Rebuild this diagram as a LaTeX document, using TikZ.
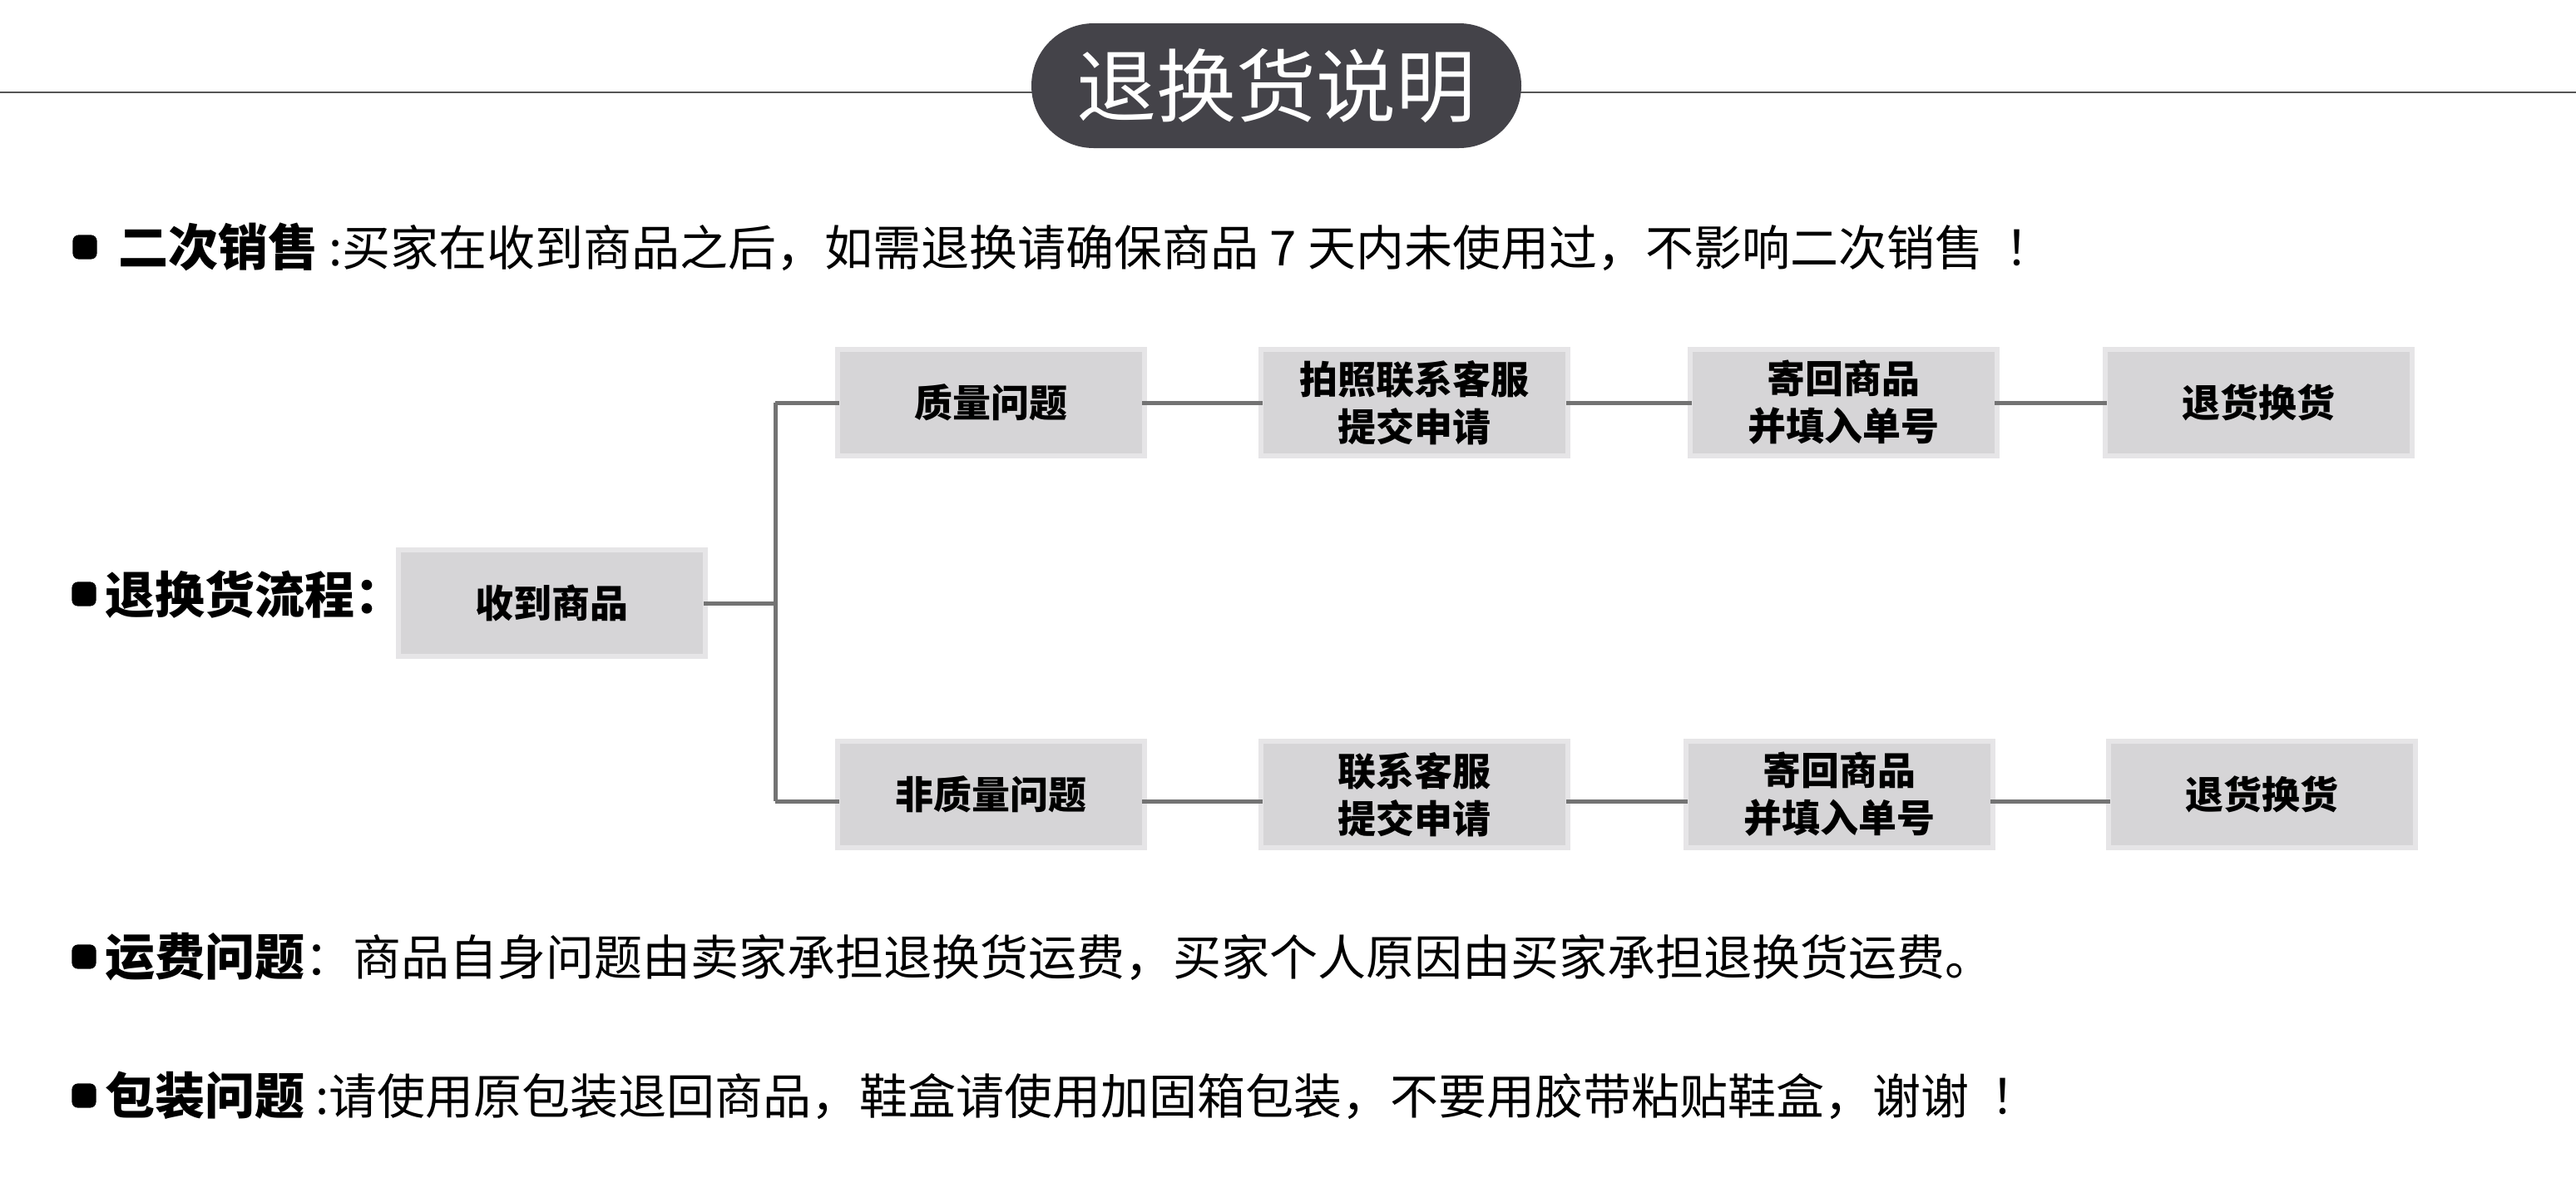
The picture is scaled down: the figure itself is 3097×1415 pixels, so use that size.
\documentclass[tikz,border=0pt]{standalone}
\usepackage{fontspec}
\setmainfont{Noto Sans CJK SC}
\definecolor{pillgray}{HTML}{444349}
\definecolor{boxgray}{HTML}{D6D5D7}
\definecolor{halogray}{HTML}{E6E5E7}
\definecolor{conngray}{HTML}{737373}
\definecolor{rulegray}{HTML}{555555}
\begin{document}
\begin{tikzpicture}[x=0.25pt,y=-0.25pt,
  flowbox/.style={fill=boxgray, minimum width=90.75pt, minimum height=30.5pt,
    inner sep=0pt, align=center,
    font=\fontsize{11.5}{14.25}\selectfont\bfseries,
    preaction={draw=halogray, line width=3pt}},
  conn/.style={draw=conngray, line width=1.25pt},
  bulletsq/.style={fill=black, minimum size=7.3pt, rounded corners=1.8pt, inner sep=0pt},
  bodytxt/.style={anchor=west, inner sep=0pt, font=\fontsize{14.5}{17}\selectfont},
]
\fill[white] (0,0) rectangle (3097,1415);
\useasboundingbox (0,0) rectangle (3097,1415);

% top rule and title
\coordinate (ruleL) at (0,111);
\coordinate (ruleR) at (3097,111);
\draw[rulegray, line width=0.5pt] (ruleL) -- (ruleR);
\node[fill=pillgray, rounded corners=18.75pt, minimum width=147.25pt, minimum height=37.5pt,
  inner sep=0pt, text=white, font=\fontsize{24}{28}\selectfont] (title) at (1534.5,103) {退换货说明};

% bullets
\node[bulletsq] (b1) at (102,297) {};
\node[bulletsq] (b2) at (101,714) {};
\node[bulletsq] (b3) at (101,1150) {};
\node[bulletsq] (b4) at (101,1317) {};

% text lines
\node[bodytxt] (l1) at (142,297) {{\fontsize{15}{17}\selectfont\bfseries 二次销售} :买家在收到商品之后，如需退换请确保商品 7 天内未使用过，不影响二次销售\hspace{0.45em}！};
\node[bodytxt, font=\fontsize{15}{17}\selectfont\bfseries] (l2) at (126,714) {退换货流程：};
\node[bodytxt] (l3) at (126,1150) {{\fontsize{15}{17}\selectfont\bfseries 运费问题}：商品自身问题由卖家承担退换货运费，买家个人原因由买家承担退换货运费。};
\node[bodytxt] (l4) at (126,1317) {{\fontsize{15}{17}\selectfont\bfseries 包装问题} :请使用原包装退回商品，鞋盒请使用加固箱包装，不要用胶带粘贴鞋盒，谢谢\hspace{0.45em}！};

% flow boxes
\node[flowbox] (recv) at (663.5,725) {收到商品};
\node[flowbox] (q1) at (1191,484) {质量问题};
\node[flowbox] (q2) at (1700.5,484) {拍照联系客服\\提交申请};
\node[flowbox] (q3) at (2216,484) {寄回商品\\并填入单号};
\node[flowbox] (q4) at (2715.5,484) {退货换货};
\node[flowbox] (n1) at (1191,955) {非质量问题};
\node[flowbox] (n2) at (1700.5,955) {联系客服\\提交申请};
\node[flowbox] (n3) at (2211,955) {寄回商品\\并填入单号};
\node[flowbox] (n4) at (2719,955) {退货换货};

% connectors
\coordinate (tt) at (932,484);
\coordinate (tb) at (932,963);
\draw[conn] (tt) -- (tb);
\draw[conn] (recv.east) -- (recv.east -| tt);
\draw[conn] (tt) -- (q1.west);
\draw[conn] (q1.east) -- (q2.west);
\draw[conn] (q2.east) -- (q3.west);
\draw[conn] (q3.east) -- (q4.west);
\draw[conn] (tb) -- (n1.west |- tb);
\draw[conn] (n1.east |- tb) -- (n2.west |- tb);
\draw[conn] (n2.east |- tb) -- (n3.west |- tb);
\draw[conn] (n3.east |- tb) -- (n4.west |- tb);
\end{tikzpicture}
\end{document}
